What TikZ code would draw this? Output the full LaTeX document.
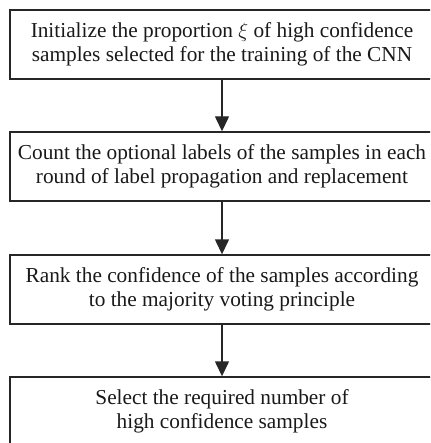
\documentclass[tikz,border=0pt]{standalone}
\usepackage{fontspec}
\setmainfont{Liberation Serif}
\usetikzlibrary{arrows.meta}
\begin{document}
\begin{tikzpicture}[x=1pt,y=-1pt,
  stepbox/.style={draw=black!85,line width=1.4pt,minimum width=424pt,minimum height=69pt,inner sep=0pt,align=center,font=\fontsize{21.3}{23.5}\selectfont,text=black!90},
  flow/.style={draw=black!85,line width=1.4pt,-{Triangle[length=15pt,width=14pt]}}]
\useasboundingbox (0,0) rectangle (430,443);
\clip (0,0) rectangle (430,443);
\node[stepbox] (b1) at (222,44.5) {Initialize the proportion $\xi$ of high confidence\\samples selected for the training of the CNN};
\node[stepbox] (b2) at (222,166.5) {Count the optional labels of the samples in each\\round of label propagation and replacement};
\node[stepbox] (b3) at (222,289.5) {Rank the confidence of the samples according\\to the majority voting principle};
\node[stepbox] (b4) at (222,411.5) {Select the required number of\\high confidence samples};
\draw[flow] (b1.south) -- (b2.north);
\draw[flow] (b2.south) -- (b3.north);
\draw[flow] (b3.south) -- (b4.north);
\end{tikzpicture}
\end{document}
